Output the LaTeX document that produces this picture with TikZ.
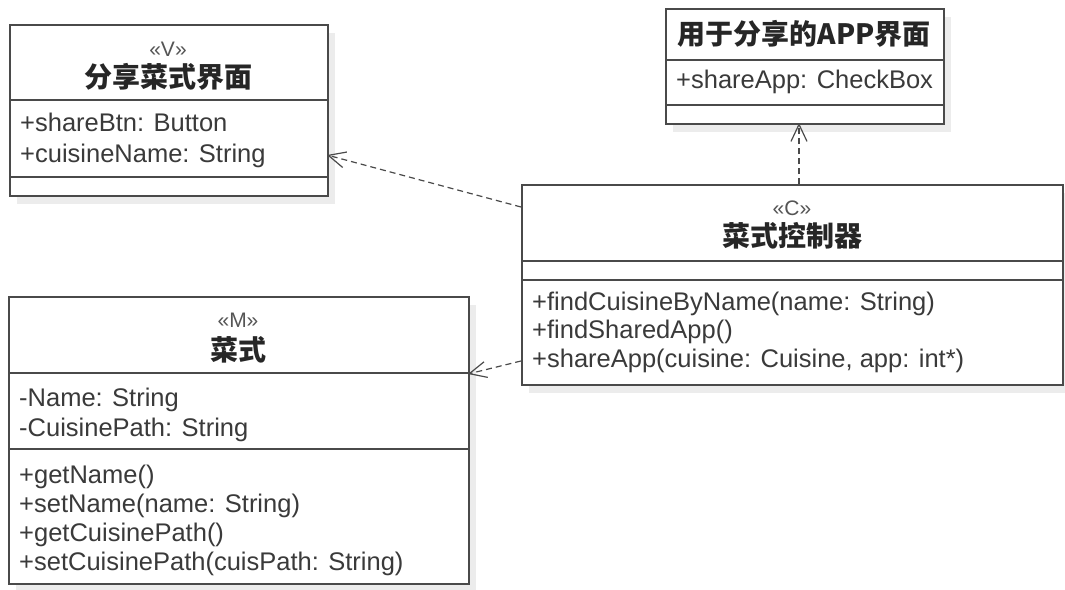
\documentclass[tikz,border=0pt]{standalone}
\usepackage{fontspec}
\setmainfont{Liberation Sans}
\newfontfamily\cjk{Noto Sans CJK SC}
\usetikzlibrary{arrows.meta,shadows}
\definecolor{boxline}{HTML}{4A4A4A}
\definecolor{txtcol}{HTML}{3A3A3A}
\definecolor{stereocol}{HTML}{555555}
\definecolor{shadecol}{HTML}{ECECEC}
\begin{document}
\begin{tikzpicture}[x=1pt,y=-1pt,
  classbox/.style={draw=boxline, line width=1.5pt, fill=white, inner sep=0pt, anchor=north west,
    drop shadow={shadow xshift=7pt, shadow yshift=-8pt, fill=shadecol, opacity=1}},
  sepline/.style={draw=boxline, line width=1.5pt},
  member/.style={anchor=base west, inner sep=0pt, font=\fontsize{25.5}{28}\selectfont, text=txtcol},
  classtitle/.style={inner sep=0pt, font=\cjk\bfseries\fontsize{28}{30}\selectfont, text=black!85},
  stereotype/.style={anchor=base, inner sep=0pt, font=\fontsize{21}{23}\selectfont, text=stereocol},
  dep/.style={draw=boxline, line width=1.2pt, dash pattern=on 6pt off 4pt,
    -{Straight Barb[length=17pt,width=16pt,line width=1.2pt]}}
]
\useasboundingbox[fill=white] (0,0) rectangle (1065,589);

% View class
\node[classbox, minimum width=318pt, minimum height=171pt] (V) at (9,24) {};
\draw[sepline] (9,100) -- (327,100);
\draw[sepline] (9,177) -- (327,177);
\node[stereotype] (Vs) at (168,56) {«V»};
\node[classtitle] (Vt) at (168,77) {分享菜式界面};
\node[member] (Va1) at (20,131) {+shareBtn: Button};
\node[member] (Va2) at (20,162) {+cuisineName: String};

% APP class
\node[classbox, minimum width=278pt, minimum height=115pt] (A) at (665,8) {};
\draw[sepline] (665,60) -- (943,60);
\draw[sepline] (665,105) -- (943,105);
\node[classtitle] (At) at (804,34) {用于分享的APP界面};
\node[member] (Aa1) at (676,88) {+shareApp: CheckBox};

% Controller class
\node[classbox, minimum width=541pt, minimum height=200pt] (C) at (521,184) {};
\draw[sepline] (521,261) -- (1062,261);
\draw[sepline] (521,280) -- (1062,280);
\node[stereotype] (Cs) at (792,215) {«C»};
\node[classtitle] (Ct) at (792,236) {菜式控制器};
\node[member] (Co1) at (532,310) {+findCuisineByName(name: String)};
\node[member] (Co2) at (532,338) {+findSharedApp()};
\node[member] (Co3) at (532,367) {+shareApp(cuisine: Cuisine, app: int*)};

% Model class
\node[classbox, minimum width=460pt, minimum height=287pt] (M) at (8,296) {};
\draw[sepline] (8,373) -- (468,373);
\draw[sepline] (8,449) -- (468,449);
\node[stereotype] (Ms) at (238,327) {«M»};
\node[classtitle] (Mt) at (238,350) {菜式};
\node[member] (Ma1) at (19,406) {-Name: String};
\node[member] (Ma2) at (19,436) {-CuisinePath: String};
\node[member] (Mo1) at (19,483) {+getName()};
\node[member] (Mo2) at (19,512) {+setName(name: String)};
\node[member] (Mo3) at (19,541) {+getCuisinePath()};
\node[member] (Mo4) at (19,570) {+setCuisinePath(cuisPath: String)};

% dependencies
\coordinate (dV1) at (521,207);
\coordinate (dV2) at (327,155);
\coordinate (dA1) at (799,184);
\coordinate (dA2) at (799,123);
\coordinate (dM1) at (521,361);
\coordinate (dM2) at (468,374);
\draw[dep] (dV1) -- (dV2);
\draw[dep] (dA1) -- (dA2);
\draw[dep] (dM1) -- (dM2);
\end{tikzpicture}
\end{document}
